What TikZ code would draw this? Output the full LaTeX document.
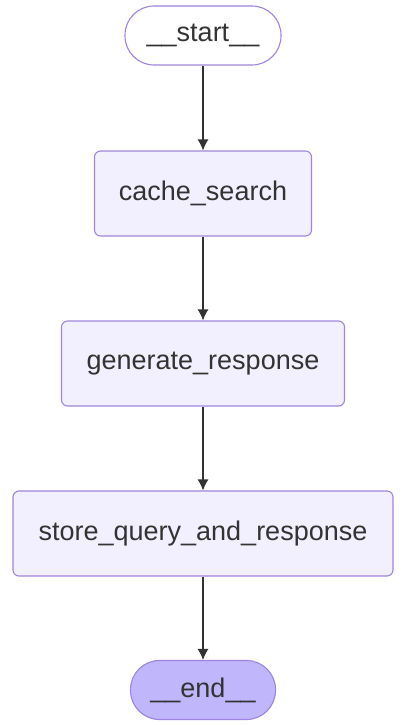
\documentclass[tikz,border=0pt]{standalone}
\usepackage{fontspec}
\setmainfont{Liberation Sans}
\usetikzlibrary{arrows,arrows.meta,positioning}
\definecolor{lgFill}{HTML}{F2F0FF}
\definecolor{lgLine}{HTML}{9F84DF}
\definecolor{lgEnd}{HTML}{BFB6FC}
\definecolor{lgText}{HTML}{333333}

\begin{document}
\begin{tikzpicture}[x=1pt,y=-1pt,
  every node/.style={font=\fontsize{27}{32}\selectfont, text=lgText},
  stepbox/.style={draw=lgLine, fill=lgFill, line width=1.1pt,
    rounded corners=6pt, minimum height=85pt},
  termbox/.style={draw=lgLine, line width=1.1pt,
    rounded corners=29pt, minimum height=59pt},
  flow/.style={draw=lgText, line width=1.2pt,
    -{Latex[length=11pt,width=11pt]}}]
  \useasboundingbox (0,0) rectangle (406,725);

  \node[termbox, fill=white, minimum width=156pt] (start) at (203,35.5) {\_\_start\_\_};
  \node[stepbox, minimum width=217pt] (cache) at (203,193.5) {cache\_search};
  \node[stepbox, minimum width=283pt] (generate) at (203,363.5) {generate\_response};
  \node[stepbox, minimum width=380pt] (store) at (203,533.5) {store\_query\_and\_response};
  \node[termbox, fill=lgEnd, minimum width=145pt] (end) at (203,690) {\_\_end\_\_};

  \draw[flow] (start) -- (cache);
  \draw[flow] (cache) -- (generate);
  \draw[flow] (generate) -- (store);
  \draw[flow] (store) -- (end);
\end{tikzpicture}
\end{document}
